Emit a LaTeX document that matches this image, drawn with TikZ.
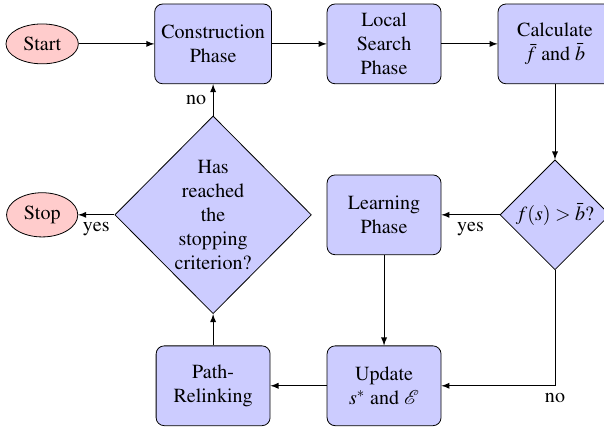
\documentclass[tikz,border=0pt]{standalone}
\usepackage[T1]{fontenc}
\usepackage{amsmath}
\usepackage{mathptmx}
\usetikzlibrary{shapes.geometric}

\begin{document}
\begin{tikzpicture}[
  phase/.style={shape=rectangle,rounded corners,draw=black,fill=blue!20,minimum width=2cm,minimum height=1.4cm,align=center},
  terminal/.style={shape=ellipse,draw=black,fill=red!20,minimum width=1.25cm,minimum height=0.7cm},
  check/.style={shape=diamond,draw=black,fill=blue!20,inner sep=0pt,align=center},
  >=latex]
\useasboundingbox (-0.74,0.77) rectangle (9.86,-6.72);
\node[terminal] (A) at (0,0) {Start};
\node[phase] (B) at (3,0) {Construction\\Phase};
\node[phase] (C) at (6,0) {Local\\Search\\Phase};
\node[phase] (D) at (9,0) {Calculate\\$\bar{f}$ and $\bar{b}$};
\node[check,minimum width=1.93cm,minimum height=1.93cm] (E) at (9,-3) {$f(s) > \bar{b}$?};
\node[phase] (F) at (6,-3) {Learning\\Phase};
\node[phase] (G) at (6,-6) {Update\\$s^{*}$ and $\mathcal{E}$};
\node[phase] (H) at (3,-6) {Path-\\Relinking};
\node[check,minimum width=3.45cm,minimum height=3.47cm] (I) at (3,-3) {Has\\reached\\the\\stopping\\criterion?};
\node[terminal] (J) at (0,-3) {Stop};
\path [->] (A) edge (B);
\path [->] (B) edge (C);
\path [->] (C) edge (D);
\path [->] (D) edge (E);
\path [->] (E) edge node[below] {yes} (F);
\draw [->] (E) |- node[pos=0.5,below] {no} (G);
\path [->] (F) edge (G);
\path [->] (G) edge (H);
\path [->] (H) edge (I);
\path [->] (I) edge node[left] {no} (B);
\path [->] (I) edge node[below] {yes} (J);
\end{tikzpicture}
\end{document}
